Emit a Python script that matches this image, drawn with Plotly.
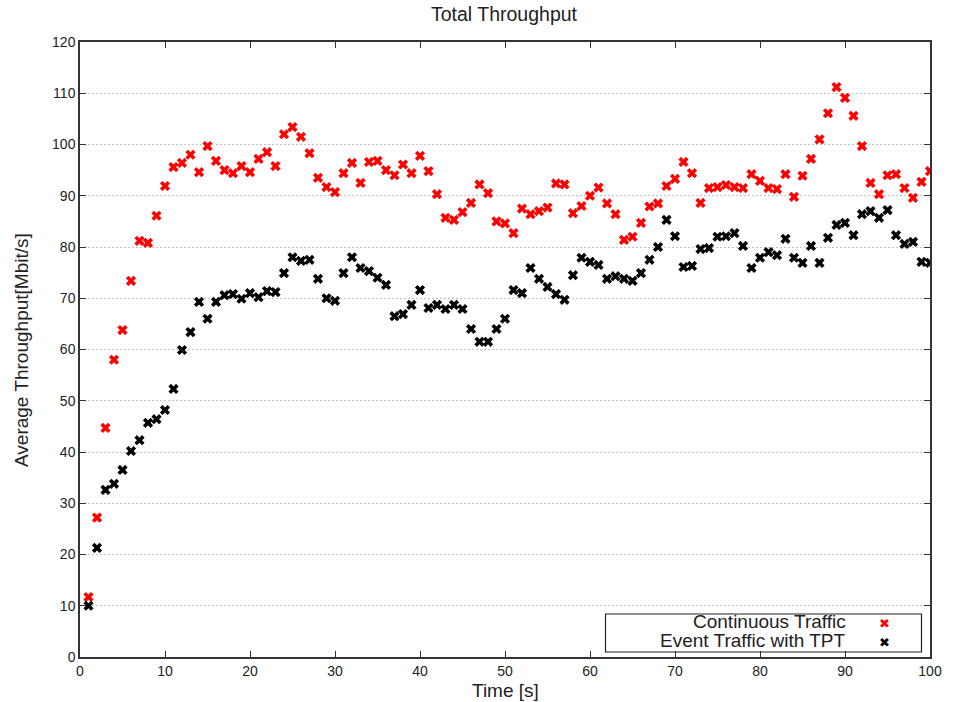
import plotly.graph_objects as go

time_s = list(range(1, 101))

continuous_traffic = [
    11.7, 27.2, 44.7, 58.0, 63.8, 73.4, 81.2, 80.8, 86.1, 91.9,
    95.6, 96.4, 98.0, 94.6, 99.7, 96.8, 95.0, 94.4, 95.8, 94.6,
    97.2, 98.5, 95.8, 102.0, 103.4, 101.5, 98.3, 93.5, 91.7, 90.7,
    94.4, 96.4, 92.5, 96.6, 96.8, 95.0, 94.0, 96.1, 94.4, 97.8,
    94.8, 90.3, 85.7, 85.3, 86.8, 88.6, 92.2, 90.5, 85.0, 84.6,
    82.7, 87.5, 86.4, 87.0, 87.7, 92.4, 92.2, 86.6, 88.0, 90.0,
    91.6, 88.5, 86.4, 81.4, 82.0, 84.7, 87.9, 88.5, 91.9, 93.3,
    96.6, 94.4, 88.6, 91.5, 91.7, 92.1, 91.7, 91.5, 94.2, 92.9,
    91.5, 91.3, 94.2, 89.8, 93.9, 97.2, 101.0, 106.1, 111.2, 109.1,
    105.6, 99.7, 92.5, 90.3, 94.0, 94.2, 91.5, 89.6, 92.7, 94.8,
]

event_traffic_tpt = [
    10.0, 21.3, 32.6, 33.8, 36.5, 40.2, 42.3, 45.7, 46.4, 48.2,
    52.3, 59.9, 63.4, 69.3, 66.0, 69.3, 70.6, 70.8, 69.9, 71.0,
    70.2, 71.4, 71.2, 74.9, 78.0, 77.3, 77.5, 73.8, 70.0, 69.5,
    74.9, 78.0, 75.9, 75.3, 74.0, 72.6, 66.5, 66.9, 68.7, 71.6,
    68.1, 68.7, 67.9, 68.7, 67.9, 64.0, 61.5, 61.5, 64.0, 66.0,
    71.6, 71.0, 75.9, 73.8, 72.2, 70.8, 69.7, 74.5, 77.9, 77.1,
    76.5, 73.8, 74.3, 73.8, 73.4, 74.9, 77.5, 80.0, 85.3, 82.1,
    76.1, 76.3, 79.6, 79.8, 82.0, 82.1, 82.7, 80.2, 75.9, 77.9,
    79.0, 78.4, 81.6, 77.9, 76.9, 80.2, 76.9, 81.8, 84.3, 84.7,
    82.3, 86.4, 87.0, 85.7, 87.2, 82.3, 80.6, 81.0, 77.1, 76.9,
]

series_names = ["Continuous Traffic", "Event Traffic with TPT"]
series_colors = ["#ff0000", "#000000"]
x_ticks = list(range(0, 101, 10))
y_ticks = list(range(0, 121, 10))

fig = go.Figure()
for name, vals, col in zip(series_names, [continuous_traffic, event_traffic_tpt], series_colors):
    fig.add_trace(go.Scatter(
        x=time_s, y=vals, mode="markers", name=name, showlegend=False,
        marker=dict(symbol="x", size=9, color=col, line=dict(width=0)),
    ))

font_family = "Liberation Sans, Arial, sans-serif"
text_col = "#222222"

W, H = 957, 702
PL, PR, PT, PB = 80, 930, 42, 657          # plot area in pixels
L, R, T, B = PL, W - PR, PT, H - PB
pw, ph = W - L - R, H - T - B


def px_x(px):
    return (px - PL) / pw


def px_y(py):
    return (PB - py) / ph


# gnuplot-style key: label text right-aligned, sample marker to its right
legend_rows = [621, 640]
key_annotations = []
for name, col, row in zip(series_names, series_colors, legend_rows):
    key_annotations.append(dict(
        text=name, xref="paper", yref="paper", x=px_x(848), y=px_y(row),
        xanchor="right", yanchor="middle", showarrow=False,
        font=dict(size=19, color=text_col)))
    key_annotations.append(dict(
        text="\u2716", xref="paper", yref="paper", x=px_x(884), y=px_y(row + 2.5),
        xanchor="center", yanchor="middle", showarrow=False,
        font=dict(size=13, color=col, family="DejaVu Sans")))

fig.update_layout(
    width=W, height=H,
    margin=dict(l=L, r=R, t=T, b=B, autoexpand=False),
    paper_bgcolor="white", plot_bgcolor="white",
    font=dict(family=font_family, color=text_col, size=14),
    title=dict(text="Total Throughput", x=px_x(504), xref="paper", xanchor="center",
               y=1 - 14 / H, yref="container", yanchor="middle",
               font=dict(size=19.5, color=text_col)),
    showlegend=False,
    xaxis=dict(range=[0, 100], tickvals=x_ticks, ticks="inside", ticklen=6,
               tickcolor="#333", showline=True, linecolor="#333", linewidth=1.5,
               mirror="ticks", showgrid=False, zeroline=False,
               tickfont=dict(size=14, color=text_col)),
    yaxis=dict(range=[0, 120], tickvals=y_ticks, ticks="inside", ticklen=6,
               tickcolor="#333", showline=True, linecolor="#333", linewidth=1.5,
               mirror="ticks", showgrid=True, gridcolor="#c4c4c4", griddash="2px,2px",
               gridwidth=1, zeroline=False,
               tickfont=dict(size=14, color=text_col)),
    shapes=[
        dict(type="rect", xref="paper", yref="paper",
             x0=px_x(605.5), x1=px_x(921.5), y0=px_y(652), y1=px_y(614),
             line=dict(color="#222", width=1.2), fillcolor="rgba(0,0,0,0)"),
    ],
    annotations=[
        dict(text="Time [s]", xref="paper", yref="paper", x=px_x(505), y=px_y(690),
             xanchor="center", yanchor="middle", showarrow=False,
             font=dict(size=19, color=text_col)),
        dict(text="Average Throughput[Mbit/s]", xref="paper", yref="paper",
             x=px_x(22), y=px_y(350), xanchor="center", yanchor="middle",
             textangle=-90, showarrow=False, font=dict(size=19, color=text_col)),
    ] + key_annotations,
)

fig.write_html("out.html", config={"displayModeBar": False},
               post_script="document.body.style.margin='0';")
